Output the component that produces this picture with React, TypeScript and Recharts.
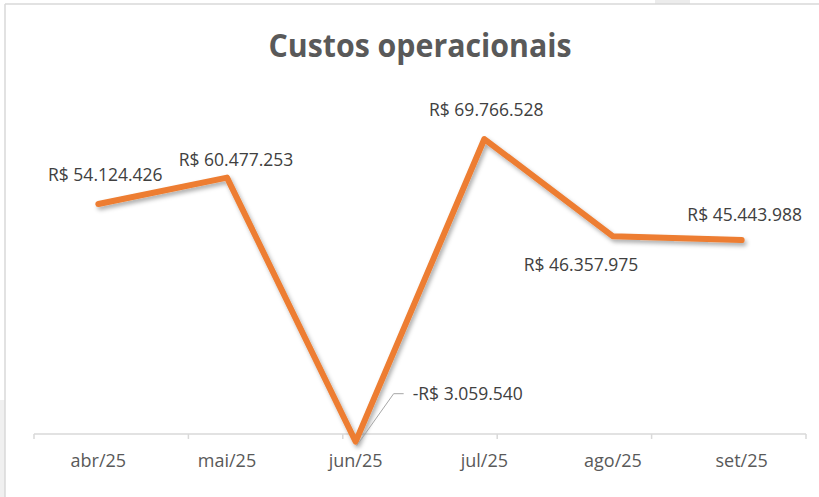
import React from 'react';
import { ComposedChart, Line, XAxis, YAxis, ReferenceLine, LabelList } from 'recharts';

const months = ['abr/25', 'mai/25', 'jun/25', 'jul/25', 'ago/25', 'set/25'];
const costs = [54124426, 60477253, -3059540, 69766528, 46357975, 45443988];
const title = 'Custos operacionais';

const yDomainMin = -4000000;
const yDomainMax = 80000000;
const axisValue = -1200000;
const tickLen = 1200000;

const data = months.map((m, i) => ({ month: m, cost: costs[i] }));
const boundaries = Array.from({ length: months.length + 1 }, (_, i) => i);

const labelPlacement = [
  { dx: 7, dy: -23, anchor: 'middle', leader: false },
  { dx: 9, dy: -12, anchor: 'middle', leader: false },
  { dx: 57, dy: -42, anchor: 'start', leader: true },
  { dx: 2, dy: -23, anchor: 'middle', leader: false },
  { dx: -32, dy: 35, anchor: 'middle', leader: false },
  { dx: 3, dy: -19, anchor: 'middle', leader: false },
];

const FONT = '"Open Sans", "Noto Sans", sans-serif';

function fmt(v: number): string {
  const s = Math.abs(Math.round(v)).toString().replace(/\B(?=(\d{3})+(?!\d))/g, '.');
  return (v < 0 ? '-' : '') + 'R$ ' + s;
}

const renderLabel = (props: any) => {
  const { x, y, value, index } = props;
  const p = labelPlacement[index] || { dx: 0, dy: -15, anchor: 'middle', leader: false };
  return (
    <g key={`lbl-${index}`}>
      {p.leader && (
        <path
          d={`M${x + 1},${y + 4} L${x + 38},${y - 48} L${x + 48},${y - 48}`}
          stroke="#a6a6a6"
          strokeWidth={1}
          fill="none"
        />
      )}
      <text
        x={x + p.dx}
        y={y + p.dy}
        textAnchor={p.anchor as any}
        fill="#404040"
        fontSize={17.5}
        fontFamily={FONT}
      >
        {fmt(value)}
      </text>
    </g>
  );
};

export default function App() {
  return (
    <div style={{ position: 'absolute', left: 0, top: 0, width: 819, height: 497, background: '#ffffff', overflow: 'hidden' }}>
      <svg width={819} height={497} style={{ position: 'absolute', left: 0, top: 0 }}>
        <defs>
          <filter id="lineShadow" x="-10%" y="-10%" width="120%" height="130%">
            <feDropShadow dx="2" dy="3" stdDeviation="2.2" floodColor="#000000" floodOpacity="0.32" />
          </filter>
        </defs>
        <rect x={655} y={0} width={35} height={4} fill="#ececec" />
        <rect x={0} y={400} width={5} height={97} fill="#f0f0f0" />
        <line x1={5} y1={4} x2={819} y2={4} stroke="#d9d9d9" strokeWidth={1.5} />
        <line x1={5} y1={4} x2={5} y2={497} stroke="#d9d9d9" strokeWidth={1.5} />
        <text
          x={420}
          y={57}
          textAnchor="middle"
          fontSize={33}
          fontWeight="bold"
          fill="#595959"
          fontFamily={FONT}
          textLength={303}
          lengthAdjust="spacingAndGlyphs"
        >
          {title}
        </text>
      </svg>
      <div style={{ position: 'absolute', left: 0, top: 0 }}>
        <ComposedChart
          width={819}
          height={497}
          data={data}
          margin={{ top: 96.5, right: 13, bottom: 21.4, left: 34 }}
        >
          <XAxis
            dataKey="month"
            scale="band"
            axisLine={false}
            tickLine={false}
            tickSize={0}
            tickMargin={9}
            height={30}
            tick={{ fill: '#595959', fontSize: 18, fontFamily: FONT }}
            interval={0}
          />
          <XAxis xAxisId="grid" type="number" domain={[0, months.length]} hide />
          <YAxis domain={[yDomainMin, yDomainMax]} hide />
          <ReferenceLine xAxisId="grid" y={axisValue} stroke="#d9d9d9" strokeWidth={1.5} />
          {boundaries.map((b) => (
            <ReferenceLine
              key={`tk-${b}`}
              xAxisId="grid"
              segment={[
                { x: b, y: axisValue },
                { x: b, y: axisValue - tickLen },
              ]}
              stroke="#d9d9d9"
              strokeWidth={1.5}
            />
          ))}
          <Line
            dataKey="cost"
            stroke="#ED7D31"
            strokeWidth={6}
            strokeLinecap="round"
            strokeLinejoin="round"
            dot={false}
            activeDot={false}
            isAnimationActive={false}
            filter="url(#lineShadow)"
          >
            <LabelList dataKey="cost" content={renderLabel} />
          </Line>
        </ComposedChart>
      </div>
    </div>
  );
}
